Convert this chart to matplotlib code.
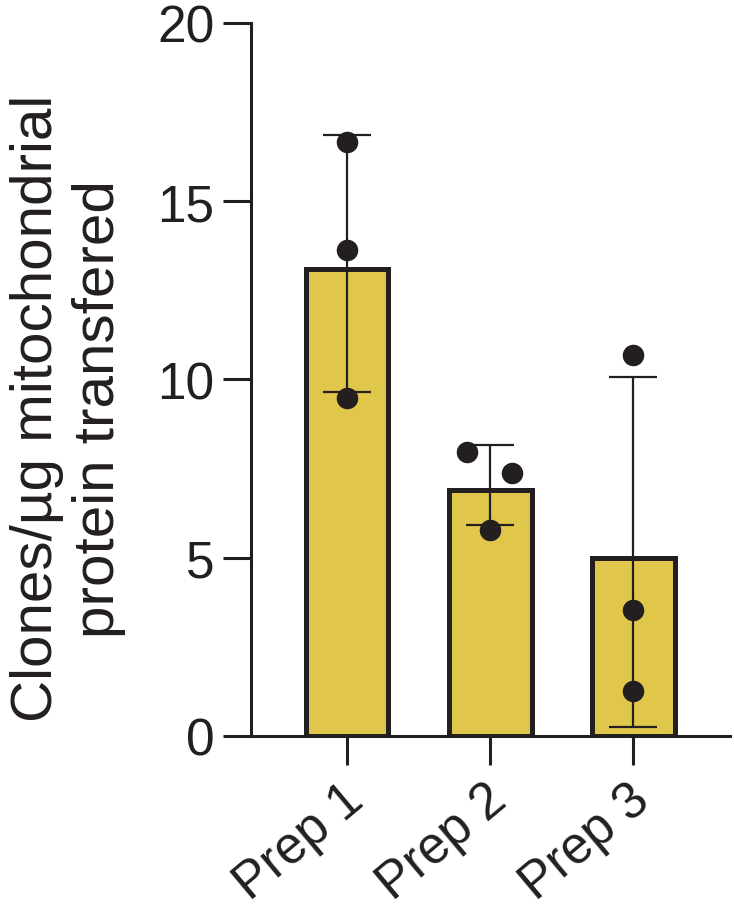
import matplotlib
matplotlib.use("Agg")
import matplotlib.pyplot as plt
import matplotlib.transforms as mtransforms
import numpy as np

plt.rcParams['font.family'] = ['Liberation Sans', 'DejaVu Sans']

categories = ["Prep 1", "Prep 2", "Prep 3"]
bar_values = [13.1, 6.9, 5.0]
err_low = [9.65, 5.91, 0.24]
err_high = [16.85, 8.17, 10.08]
# individual replicate values per prep, with horizontal jitter (category units)
points = [[16.66, 13.63, 9.47], [7.97, 7.38, 5.77], [10.70, 3.54, 1.27]]
jitter = [[0.0, 0.0, 0.0], [-0.163, 0.156, 0.0], [0.0, 0.0, 0.0]]
yticks = [0, 5, 10, 15, 20]
ylabel = "Clones/µg mitochondrial\nprotein transfered"

bar_color = "#E0C64B"
ink = "#231F20"

fig = plt.figure(figsize=(7.34, 9.12), dpi=100)
ax = fig.add_axes([0.3416, 0.1919, 0.653, 0.7818])

x = np.arange(len(categories))
ax.bar(x, bar_values, width=0.58, color=bar_color, edgecolor=ink, linewidth=3.6, zorder=2)

lo = np.array(bar_values) - np.array(err_low)
hi = np.array(err_high) - np.array(bar_values)
ax.errorbar(x, bar_values, yerr=[lo, hi], fmt='none', ecolor=ink, elinewidth=1.6,
            capsize=17, capthick=1.6, zorder=3)

for i, (vals, jit) in enumerate(zip(points, jitter)):
    ax.plot(np.array(jit) + i, vals, 'o', color=ink, markersize=15.5, zorder=4,
            markeredgewidth=0)

ax.set_xlim(-0.673, 2.678)
ax.set_ylim(0, 20)
ax.set_yticks(yticks)
ax.set_xticks(x)
ax.set_xticklabels([""] * len(categories))

offset = mtransforms.ScaledTranslation(0.10, -0.57, fig.dpi_scale_trans)
label_trans = ax.get_xaxis_transform() + offset
for i, cat in enumerate(categories):
    ax.text(i, 0, cat, transform=label_trans, rotation=40, ha='right', va='center',
            rotation_mode='anchor', fontsize=37, color=ink, clip_on=False)

for s in ['top', 'right']:
    ax.spines[s].set_visible(False)
for s in ['left', 'bottom']:
    ax.spines[s].set_linewidth(2.2)
    ax.spines[s].set_color(ink)

ax.tick_params(axis='y', direction='out', length=20, width=2.2, color=ink,
               labelsize=37, pad=6, labelcolor=ink)
ax.tick_params(axis='x', direction='out', length=21, width=2.2, color=ink,
               labelsize=37, pad=12, labelcolor=ink)

fig.text(0.093, 0.552, ylabel, rotation=90, ha='center', va='center',
         multialignment='center', fontsize=42, color=ink, linespacing=1.2)

fig.savefig("out.png", dpi=100)
